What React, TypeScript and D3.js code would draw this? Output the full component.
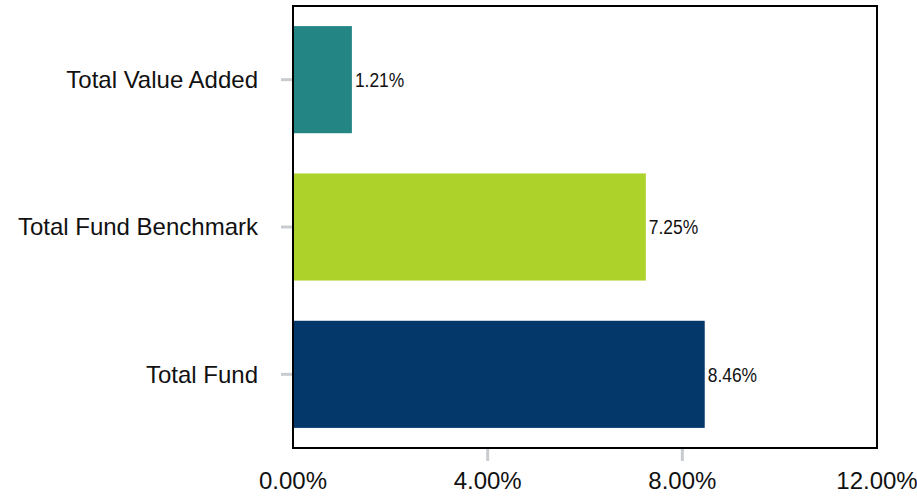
import { useEffect, useRef } from 'react';
import * as d3 from 'd3';

const categories = ['Total Value Added', 'Total Fund Benchmark', 'Total Fund'];
const values = [1.21, 7.25, 8.46];
const barColors = ['#238584', '#add22a', '#04376a'];
const xTicks = [0, 4, 8, 12];

export default function App() {
  const svgRef = useRef<SVGSVGElement>(null);

  useEffect(() => {
    if (!svgRef.current) return;
    const svg = d3.select(svgRef.current);
    svg.selectAll('*').remove();

    const W = 917, H = 496;
    const margin = { top: 6, right: 40, bottom: 48, left: 293 };
    const width = W - margin.left - margin.right;
    const height = H - margin.top - margin.bottom;

    svg.attr('width', W).attr('height', H);
    const g = svg.append('g').attr('transform', `translate(${margin.left},${margin.top})`);

    const x = d3.scaleLinear().domain([0, 12]).range([0, width]);
    const y = d3.scaleBand<string>().domain(categories).range([0, height])
      .paddingInner(0.273).paddingOuter(0.1365);

    // ── Bars ────────────────────────────────────────────────
    g.selectAll('rect.bar').data(values).join('rect')
      .attr('class', 'bar')
      .attr('x', 0)
      .attr('y', (_, i) => y(categories[i])!)
      .attr('width', d => x(d))
      .attr('height', y.bandwidth())
      .attr('fill', (_, i) => barColors[i]);

    // value labels, squeezed horizontally to mimic a narrow face
    g.selectAll('text.val').data(values).join('text')
      .attr('class', 'val')
      .attr('transform', (d, i) =>
        `translate(${x(d) + 3},${y(categories[i])! + y.bandwidth() / 2}) scale(0.83,1)`)
      .attr('dy', '0.35em')
      .attr('font-family', '"Liberation Sans", Arial, sans-serif')
      .attr('font-size', '21px')
      .attr('fill', '#111')
      .text(d => `${d.toFixed(2)}%`);

    // ── Frame ───────────────────────────────────────────────
    g.append('rect')
      .attr('x', 0).attr('y', 0).attr('width', width).attr('height', height)
      .attr('fill', 'none').attr('stroke', '#000').attr('stroke-width', 2);

    // ── Y axis ticks + labels ───────────────────────────────
    categories.forEach(c => {
      const cy = y(c)! + y.bandwidth() / 2;
      g.append('line').attr('x1', -12).attr('x2', -1).attr('y1', cy).attr('y2', cy)
        .attr('stroke', '#c8ccd0').attr('stroke-width', 3);
      g.append('text').attr('x', -35).attr('y', cy).attr('dy', '0.35em')
        .attr('text-anchor', 'end')
        .attr('font-family', '"Liberation Sans", Arial, sans-serif')
        .attr('font-size', '24px').attr('fill', '#111')
        .text(c);
    });

    // ── X axis ──────────────────────────────────────────────
    xTicks.forEach(t => {
      if (t > 0 && t < 12) {
        g.append('line').attr('x1', x(t)).attr('x2', x(t)).attr('y1', height + 1).attr('y2', height + 13)
          .attr('stroke', '#c8ccd0').attr('stroke-width', 3);
      }
      g.append('text').attr('x', x(t)).attr('y', height + 41)
        .attr('text-anchor', 'middle')
        .attr('font-family', '"Liberation Sans", Arial, sans-serif')
        .attr('font-size', '24px').attr('fill', '#111')
        .text(`${t.toFixed(2)}%`);
    });
  }, []);

  return (
    <div style={{ position: 'absolute', left: 0, top: 0 }}>
      <svg ref={svgRef} style={{ display: 'block' }} />
    </div>
  );
}
